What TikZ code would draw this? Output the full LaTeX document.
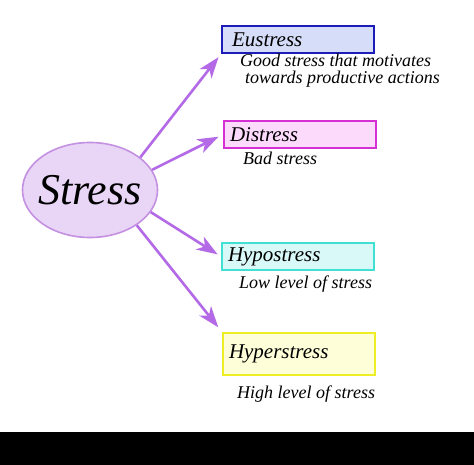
\documentclass[tikz,border=0pt]{standalone}
\usepackage{fontspec}
\setmainfont{Liberation Serif}
\usetikzlibrary{arrows.meta,shapes.geometric}

\definecolor{arrowviolet}{HTML}{B46AE6}
\definecolor{ellipseline}{HTML}{C490E2}
\definecolor{ellipsefill}{HTML}{E9D6F6}
\definecolor{eublue}{HTML}{1C1CB8}
\definecolor{eufill}{HTML}{D6DDF8}
\definecolor{dismagenta}{HTML}{D430D4}
\definecolor{disfill}{HTML}{FCDAFC}
\definecolor{hypoturq}{HTML}{40E0D2}
\definecolor{hypofill}{HTML}{D8F9F7}
\definecolor{hyperyellow}{HTML}{EEEE24}
\definecolor{hyperfill}{HTML}{FEFED8}

\begin{document}
\begin{tikzpicture}[x=1pt,y=-1pt,
        stressarrow/.style={line width=2.6pt,arrowviolet,-{Stealth[length=21pt,width=15pt,inset=6pt]}},
        catbox/.style={draw,line width=2pt,anchor=north west,minimum height=27pt,text width=140pt,inner xsep=6pt,align=left,font=\fontsize{21}{24}\selectfont\itshape},
        note/.style={anchor=base west,inner sep=0pt,align=left,font=\fontsize{18}{17}\selectfont\itshape}]
            \fill[white] (0,0) rectangle (474,465);
            \useasboundingbox (0,0) rectangle (474,465);
            \node[ellipse,draw=ellipseline,fill=ellipsefill,line width=1.6pt,inner xsep=-4pt,inner ysep=0pt,minimum width=135pt,minimum height=95pt,font=\fontsize{44}{44}\selectfont\itshape] (stress) at (90,190) {Stress};
            \node[catbox,draw=eublue,fill=eufill,inner xsep=10pt,text width=132pt] (eu) at (221,25) {Eustress};
            \node[catbox,draw=dismagenta,fill=disfill] (dis) at (223,120) {Distress};
            \node[catbox,draw=hypoturq,fill=hypofill] (hypo) at (221,242) {Hypostress};
            \node[catbox,draw=hyperyellow,fill=hyperfill,minimum height=42pt] (hyper) at (222,332) {Hyperstress};
            \node[note] (eunote) at (240,84) {Good stress that motivates\\\hspace*{5pt}towards productive actions};
            \node[note] (disnote) at (243,165) {Bad stress};
            \node[note] (hyponote) at (239,288) {Low level of stress};
            \node[note] (hypernote) at (237,398) {High level of stress};
            \draw[stressarrow,shorten >=4pt] (stress.33) -- (eu.south west);
            \draw[stressarrow,shorten >=5pt] (stress.18) -- (dis.west);
            \draw[stressarrow,shorten >=4pt] (stress.-20) -- (hypo.west);
            \draw[stressarrow,shorten >=6pt] (stress.-37) -- (hyper.north west);
            \fill[black] (0,432) rectangle (474,465);
        \end{tikzpicture}
\end{document}
